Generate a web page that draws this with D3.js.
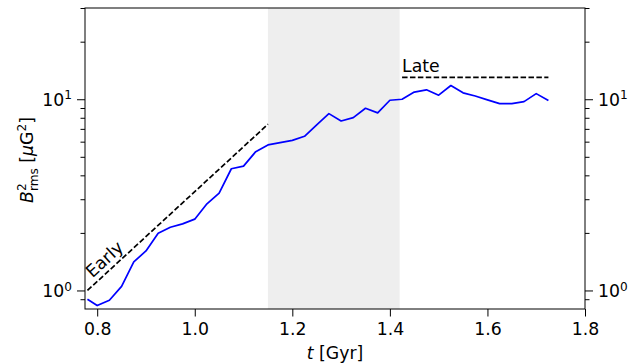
<!DOCTYPE html>
<html>
<head>
<meta charset="utf-8">
<script src="https://d3js.org/d3.v7.min.js"></script>
<style>
body { margin: 0; background: #fff; }
svg text { font-family: "DejaVu Sans", sans-serif; fill: #000; white-space: pre; }
.tick line { stroke: #000; stroke-width: 1; }
</style>
</head>
<body>
<svg width="644" height="363"></svg>
<script>
// time in Gyr and B_rms^2 in muG^2
var tVals = [0.78, 0.80, 0.825, 0.85, 0.875, 0.90, 0.925, 0.95, 0.975, 1.0,
             1.025, 1.05, 1.075, 1.10, 1.125, 1.15, 1.175, 1.20, 1.225, 1.25,
             1.275, 1.30, 1.325, 1.35, 1.375, 1.40, 1.425, 1.45, 1.475, 1.50,
             1.525, 1.55, 1.575, 1.60, 1.625, 1.65, 1.675, 1.70, 1.725];
var bVals = [0.90, 0.834, 0.889, 1.05, 1.41, 1.61, 1.99, 2.14, 2.23, 2.36,
             2.84, 3.23, 4.33, 4.47, 5.32, 5.77, 5.93, 6.09, 6.40, 7.34,
             8.41, 7.70, 8.02, 8.97, 8.49, 9.88, 10.0, 10.9, 11.2, 10.5,
             11.8, 10.8, 10.4, 9.93, 9.49, 9.49, 9.72, 10.7, 9.84];

// fitted growth lines
var earlyT = [0.78, 1.15];
var earlyB = [1.0, 7.4];
var lateT = [1.425, 1.725];
var lateB = [13, 13];

// shaded window
var shadeT = [1.15, 1.42];

var xTicks = [0.8, 1.0, 1.2, 1.4, 1.6, 1.8];
var yMajor = [1, 10];
var yMinor = [0.9, 2, 3, 4, 5, 6, 7, 8, 9, 20, 30];

var svg = d3.select("svg");
var pL = 85, pR = 585, pT = 8, pB = 309;
var fs = 17.3;

var x = d3.scaleLinear().domain([0.775, 1.8]).range([pL, pR]);
var y = d3.scaleLog().domain([0.8, 30]).range([pB, pT]);

// shaded region
svg.append("rect")
    .attr("x", x(shadeT[0]))
    .attr("y", pT)
    .attr("width", x(shadeT[1]) - x(shadeT[0]))
    .attr("height", pB - pT)
    .attr("fill", "#eeeeee");

var line = d3.line()
    .x(function(d) { return x(d[0]); })
    .y(function(d) { return y(d[1]); });

svg.append("path")
    .attr("d", line(d3.zip(earlyT, earlyB)))
    .attr("fill", "none")
    .attr("stroke", "#000")
    .attr("stroke-width", 1.7)
    .attr("stroke-dasharray", "5.5,2.4");

svg.append("path")
    .attr("d", line(d3.zip(lateT, lateB)))
    .attr("fill", "none")
    .attr("stroke", "#000")
    .attr("stroke-width", 1.7)
    .attr("stroke-dasharray", "5.5,2.4");

svg.append("path")
    .attr("d", line(d3.zip(tVals, bVals)))
    .attr("fill", "none")
    .attr("stroke", "#0000ff")
    .attr("stroke-width", 1.7)
    .attr("stroke-linejoin", "round");

// labels on the fit lines
var ang = Math.atan2(y(earlyB[1]) - y(earlyB[0]), x(earlyT[1]) - x(earlyT[0])) * 180 / Math.PI;
svg.append("text")
    .attr("transform", "translate(" + (x(earlyT[0]) + 5) + "," + (y(earlyB[0]) - 12) + ") rotate(" + ang + ")")
    .attr("font-size", fs)
    .text("Early");

svg.append("text")
    .attr("x", x(lateT[0]))
    .attr("y", y(lateB[0]) - 5)
    .attr("font-size", fs)
    .text("Late");

// x axis
var gx = svg.append("g")
    .attr("transform", "translate(0," + pB + ")")
    .call(d3.axisBottom(x).tickValues(xTicks).tickSize(7.5).tickPadding(6)
        .tickFormat(d3.format(".1f")));
gx.select(".domain").remove();
gx.selectAll("text").attr("font-size", fs).attr("font-family", "DejaVu Sans");

// y axes, left and right
function yAxis(axisFn, xpos) {
    var g = svg.append("g").attr("transform", "translate(" + xpos + ",0)");
    g.call(axisFn(y).tickValues(yMinor).tickSize(4.5).tickFormat(""));
    g.select(".domain").remove();
    var gm = svg.append("g").attr("transform", "translate(" + xpos + ",0)");
    gm.call(axisFn(y).tickValues(yMajor).tickSize(8).tickPadding(5)
        .tickFormat(function() { return ""; }));
    gm.select(".domain").remove();
    gm.selectAll(".tick text").each(function(d) {
        var t = d3.select(this)
            .attr("font-size", fs)
            .attr("font-family", "DejaVu Sans")
            .attr("dy", "0.36em");
        t.append("tspan").text("10");
        t.append("tspan")
            .attr("font-size", fs * 0.7)
            .attr("dy", "-0.55em")
            .text(Math.round(Math.log10(d)));
    });
}
yAxis(d3.axisLeft, pL);
yAxis(d3.axisRight, pR);

// frame
svg.append("rect")
    .attr("x", pL).attr("y", pT)
    .attr("width", pR - pL).attr("height", pB - pT)
    .attr("fill", "none")
    .attr("stroke", "#000")
    .attr("stroke-width", 1);

// x label
var xl = svg.append("text")
    .attr("x", (pL + pR) / 2)
    .attr("y", 359)
    .attr("text-anchor", "middle")
    .attr("font-size", fs);
xl.append("tspan").attr("font-style", "italic").text("t");
xl.append("tspan").text(" [Gyr]");

// y label, built piece by piece then centred
var yl = svg.append("g");
var pieces = [
    { s: "B", italic: true, size: fs, dy: 0 },
    { s: "2", size: fs * 0.7, dy: -7.5, stack: true },
    { s: "rms", size: fs * 0.7, dy: 4.5 },
    { s: " [", size: fs, dy: 0 },
    { s: "\u03bc", italic: true, size: fs, dy: 0 },
    { s: "G", size: fs, dy: 0 },
    { s: "2", size: fs * 0.7, dy: -7.5 },
    { s: "]", size: fs, dy: 0 }
];
var cx = 0, stackX = null;
pieces.forEach(function(p) {
    var px = cx;
    if (p.stack === undefined && stackX !== null) { px = stackX.x; }
    var el = yl.append("text")
        .attr("x", px)
        .attr("y", p.dy)
        .attr("font-size", p.size)
        .attr("font-style", p.italic ? "italic" : "normal")
        .text(p.s);
    var w = el.node().getComputedTextLength();
    if (p.stack) {
        stackX = { x: cx, w: w };
        cx += w;
    } else if (stackX !== null) {
        cx = Math.max(px + w, stackX.x + stackX.w);
        stackX = null;
    } else {
        cx += w;
    }
});
yl.attr("transform", "translate(33," + (160 + cx / 2) + ") rotate(-90)");
</script>
</body>
</html>
